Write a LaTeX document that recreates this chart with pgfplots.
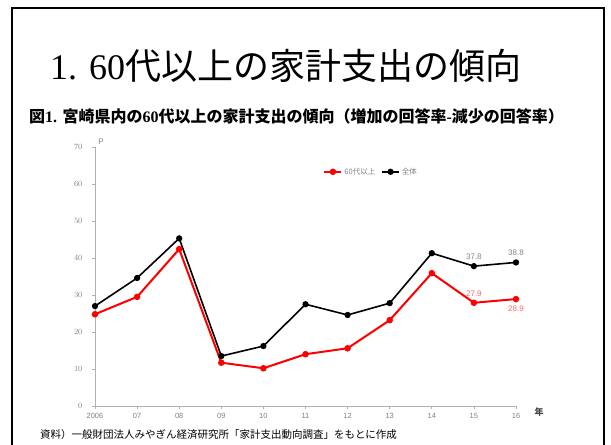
\documentclass[border=0pt]{standalone}
\usepackage{fontspec}
\setmainfont{Liberation Serif}
\newfontfamily\cjk{Noto Sans CJK JP}
\newfontfamily\sans{Liberation Sans}
\usepackage{pgfplots}
\pgfplotsset{compat=1.18}
\definecolor{tickgray}{RGB}{130,130,130}
\definecolor{axgray}{RGB}{175,175,175}
\begin{document}
\begin{tikzpicture}
\useasboundingbox (0bp,0bp) rectangle (611bp,445bp);
\draw[line width=2bp] (12bp,-10bp) -- (12bp,437bp) -- (604bp,437bp) -- (604bp,-10bp);
\node[anchor=base west, inner sep=0] at (50bp,365bp) {\fontsize{36bp}{40bp}\selectfont 1. 60{\cjk 代以上の家計支出の傾向}};
\node[anchor=base west, inner sep=0] at (29bp,322bp) {\fontsize{16bp}{18bp}\selectfont\bfseries {\cjk 図}1. {\cjk 宮崎県内の}60{\cjk 代以上の家計支出の傾向（増加の回答率}-{\cjk 減少の回答率）}};
\node[anchor=base west, inner sep=0] at (40bp,7bp) {\cjk\fontsize{10.5bp}{12bp}\selectfont 資料）一般財団法人みやぎん経済研究所「家計支出動向調査」をもとに作成};
\node[anchor=center, inner sep=0, text=black!75] at (539bp,33bp) {\cjk\fontsize{9bp}{10bp}\selectfont\bfseries 年};
\node[anchor=center, inner sep=0, text=tickgray] at (101bp,303bp) {\sans\fontsize{8bp}{9bp}\selectfont P};
\begin{axis}[
  at={(95bp,39bp)}, anchor=south west,
  scale only axis, width=421bp, height=259bp,
  xmin=0, xmax=10, ymin=0, ymax=70,
  clip=false,
  axis x line*=bottom, axis y line*=left,
  axis line style={axgray, line width=1bp},
  xtick={0,...,10},
  xticklabels={2006,07,08,09,10,11,12,13,14,15,16},
  ytick={0,10,...,70},
  tick style={axgray, line width=0.8bp},
  major tick length=3bp,
  tick align=outside,
  tick label style={font=\sans\fontsize{7.5bp}{9bp}\selectfont, text=tickgray},
  xticklabel style={yshift=-1bp},
  yticklabel style={xshift=-6bp},
  legend style={at={(axis cs:5.35,63.3)}, anchor=west, draw=none, fill=none,
    font=\cjk\fontsize{7.5bp}{8bp}\selectfont, text=tickgray,
    /tikz/every even column/.append style={column sep=4bp}},
  legend columns=2,
]
\addplot[red, line width=2bp, mark=*, mark size=2.2bp, mark options={solid}] coordinates {
(0,24.8) (1,29.5) (2,42.4) (3,11.7) (4,10.2) (5,14.0) (6,15.6) (7,23.2) (8,35.9) (9,27.9) (10,28.9)};
\addlegendentry{60代以上}
\addplot[black, line width=1.6bp, mark=*, mark size=2.3bp, mark options={solid}] coordinates {
(0,27.0) (1,34.6) (2,45.3) (3,13.5) (4,16.2) (5,27.5) (6,24.6) (7,27.8) (8,41.3) (9,37.8) (10,38.8)};
\addlegendentry{全体}
\node[above=3bp, text=tickgray, font=\sans\fontsize{8bp}{9bp}\selectfont] at (axis cs:9,37.8) {37.8};
\node[above=3bp, text=tickgray, font=\sans\fontsize{8bp}{9bp}\selectfont] at (axis cs:10,38.8) {38.8};
\node[above=3bp, text=red!60, font=\sans\fontsize{8bp}{9bp}\selectfont] at (axis cs:9,27.9) {27.9};
\node[below=3bp, text=red!60, font=\sans\fontsize{8bp}{9bp}\selectfont] at (axis cs:10,28.9) {28.9};
\end{axis}
\end{tikzpicture}
\end{document}
